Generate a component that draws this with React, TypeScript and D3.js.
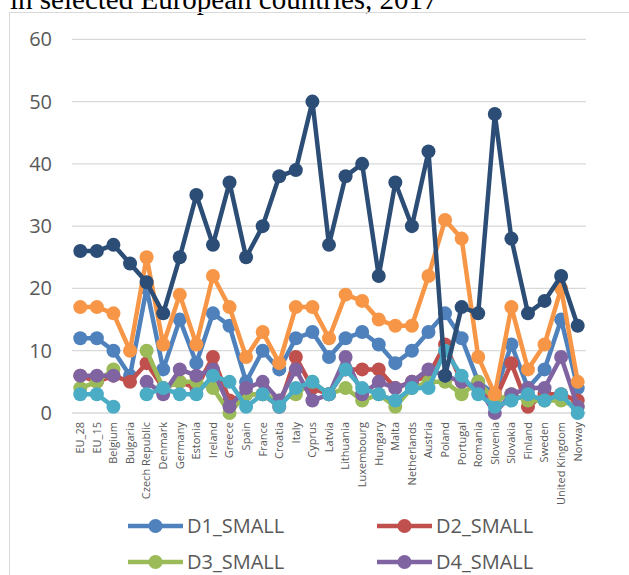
import React from "react";
import * as d3 from "d3";

// Shares by country, 2017
const categories = [
  "EU_28", "EU_15", "Belgium", "Bulgaria", "Czech Republic", "Denmark", "Germany",
  "Estonia", "Ireland", "Greece", "Spain", "France", "Croatia", "Italy", "Cyprus",
  "Latvia", "Lithuania", "Luxembourg", "Hungary", "Malta", "Netherlands", "Austria",
  "Poland", "Portugal", "Romania", "Slovenia", "Slovakia", "Finland", "Sweden",
  "United Kingdom", "Norway",
];

const d1Small = [12, 12, 10, 6, 20, 7, 15, 8, 16, 14, 5, 10, 7, 12, 13, 9, 12, 13, 11, 8, 10, 13, 16, 12, 5, 3, 11, 4, 7, 15, 4];
const d2Small = [6, 5, 6, 5, 8, 4, 5, 4, 9, 2, 3, 3, 1, 9, 4, 3, 7, 7, 7, 4, 5, 6, 11, 5, 4, 2, 8, 1, 3, 3, 2];
const d3Small = [4, 5, 7, null, 10, 4, 5, 5, 4, 0, 3, 3, 2, 3, 5, 3, 4, 2, 3, 1, 4, 5, 5, 3, 5, 2, 3, 2, 2, 2, 1];
const d4Small = [6, 6, 6, null, 5, 3, 7, 6, 7, 1, 4, 5, 2, 7, 2, 3, 9, 3, 5, 4, 5, 7, 6, 5, 4, 0, 3, 4, 4, 9, 1];
const d5Small = [3, 3, 1, null, 3, 4, 3, 3, 6, 5, 1, 3, 1, 4, 5, 3, 7, 4, 3, 2, 4, 4, 10, 6, 3, 1, 2, 3, 2, 3, 0];
const d6Small = [17, 17, 16, 10, 25, 11, 19, 11, 22, 17, 9, 13, 8, 17, 17, 12, 19, 18, 15, 14, 14, 22, 31, 28, 9, 3, 17, 7, 11, 20, 5];
const d7Small = [26, 26, 27, 24, 21, 16, 25, 35, 27, 37, 25, 30, 38, 39, 50, 27, 38, 40, 22, 37, 30, 42, 6, 17, 16, 48, 28, 16, 18, 22, 14];

const yTicks = [0, 10, 20, 30, 40, 50, 60];

const series = [
  { name: "D1_SMALL", values: d1Small, color: "#4F81BD" },
  { name: "D2_SMALL", values: d2Small, color: "#C0504D" },
  { name: "D3_SMALL", values: d3Small, color: "#9BBB59" },
  { name: "D4_SMALL", values: d4Small, color: "#8064A2" },
  { name: "D5_SMALL", values: d5Small, color: "#4BACC6" },
  { name: "D6_SMALL", values: d6Small, color: "#F79646" },
  { name: "D7_SMALL", values: d7Small, color: "#2C4D75" },
];

const W = 629;
const H = 575;
const plot = { left: 72, right: 586, top: 39.3, bottom: 413 };
const font = "'Open Sans', sans-serif";
const textColor = "#595959";

export default function App() {
  const x = d3
    .scaleBand<string>()
    .domain(categories)
    .range([plot.left, plot.right])
    .padding(0);
  const y = d3.scaleLinear().domain([0, 60]).range([plot.bottom, plot.top]);
  const cx = (c: string) => (x(c) ?? 0) + x.bandwidth() / 2;

  const line = d3
    .line<number | null>()
    .defined((d) => d != null)
    .x((_, i) => cx(categories[i]))
    .y((d) => y(d as number));

  const legendCols = [128, 377];
  const legendRows = [526, 562, 598, 634];

  return (
    <svg
      width={W}
      height={H}
      style={{ position: "absolute", left: 0, top: 0, background: "#fff" }}
    >
      <text
        x={10}
        y={9}
        fontFamily="'Liberation Serif', 'Times New Roman', serif"
        fontSize={29}
        fill="#000"
      >
        in selected European countries, 2017
      </text>
      <rect x={9.5} y={12.5} width={W + 20} height={H + 20} fill="none" stroke="#D9D9D9" strokeWidth={1} />

      {yTicks.map((t) => (
        <g key={t}>
          <line x1={plot.left} x2={plot.right} y1={y(t)} y2={y(t)} stroke="#D9D9D9" strokeWidth={1.3} />
          <text
            x={52}
            y={y(t)}
            dy="0.35em"
            textAnchor="end"
            fontFamily={font}
            fontSize={20}
            fill={textColor}
          >
            {t}
          </text>
        </g>
      ))}

      {categories.map((c) => (
        <text
          key={c}
          transform={`translate(${cx(c)},${plot.bottom + 9}) rotate(-90)`}
          dy="0.35em"
          textAnchor="end"
          fontFamily={font}
          fontSize={11}
          fill={textColor}
        >
          {c}
        </text>
      ))}

      {series.map((s) => (
        <g key={s.name}>
          <path d={line(s.values) ?? ""} fill="none" stroke={s.color} strokeWidth={4.5} strokeLinejoin="round" />
          {s.values.map((v, i) =>
            v == null ? null : (
              <circle key={i} cx={cx(categories[i])} cy={y(v)} r={7} fill={s.color} />
            )
          )}
        </g>
      ))}

      {series.map((s, i) => {
        const lx = legendCols[i % 2];
        const ly = legendRows[Math.floor(i / 2)];
        return (
          <g key={s.name}>
            <line x1={lx} x2={lx + 55} y1={ly} y2={ly} stroke={s.color} strokeWidth={4.5} />
            <circle cx={lx + 27.5} cy={ly} r={7} fill={s.color} />
            <text
              x={lx + 59}
              y={ly}
              dy="0.35em"
              fontFamily={font}
              fontSize={20}
              fill={textColor}
            >
              {s.name}
            </text>
          </g>
        );
      })}
    </svg>
  );
}
